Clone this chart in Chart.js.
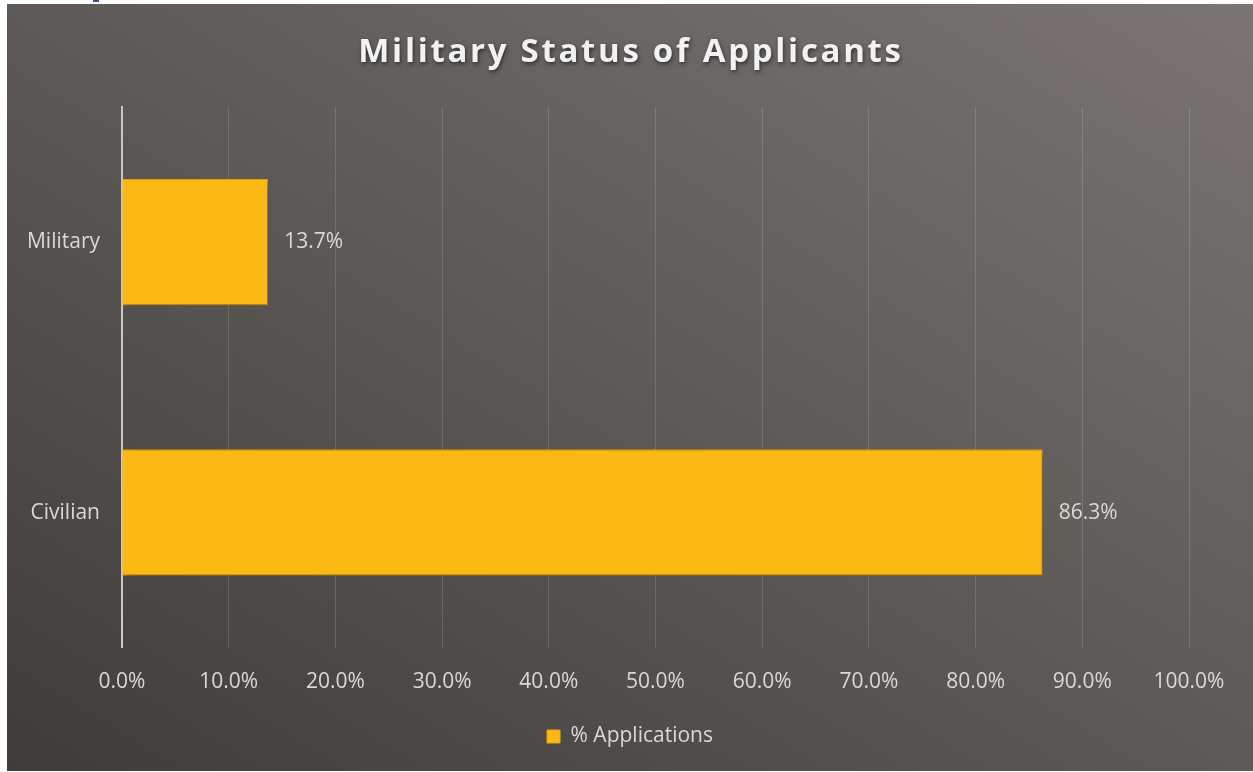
<!DOCTYPE html>
<html>
<head>
<meta charset="utf-8">
<script src="https://cdn.jsdelivr.net/npm/chart.js@4.4.0/dist/chart.umd.min.js"></script>
<style>
  html, body { margin: 0; padding: 0; background: #fff; }
  body { width: 1253px; height: 772px; position: relative; overflow: hidden; }
  #frame {
    position: absolute; left: 7px; top: 4px; width: 1246px; height: 767px;
    background: linear-gradient(to top right, #3f3c3a 0%, #5d5957 50%, #7a7572 100%);
  }
  #mark { position: absolute; left: 93px; top: 0; width: 6px; height: 2px; background: #2f5597; }
</style>
</head>
<body>
<div id="mark"></div>
<div id="frame"><canvas id="mycanvas1" width="1246" height="767"></canvas></div>
<script>
const chartTitle = 'Military Status of Applicants';
const categories = ['Military', 'Civilian'];
const seriesName = '% Applications';
const applicationShare = [13.7, 86.3];

const fontFamily = '"Open Sans", "Liberation Sans", sans-serif';

// title with a soft drop shadow, drawn by hand
const titlePlugin = {
    id: 'shadowTitle',
    afterDraw(chart) {
        const ctx = chart.ctx;
        ctx.save();
        ctx.font = 'bold 33px ' + fontFamily;
        ctx.letterSpacing = '2.7px';
        ctx.fillStyle = '#f2f2f2';
        ctx.textAlign = 'center';
        ctx.textBaseline = 'middle';
        ctx.shadowColor = 'rgba(0,0,0,0.55)';
        ctx.shadowBlur = 4;
        ctx.shadowOffsetX = 1;
        ctx.shadowOffsetY = 2;
        ctx.fillText(chartTitle, chart.width / 2 + 1, 49);
        ctx.restore();
    }
};

// bar shadow + value labels
const barPlugin = {
    id: 'barExtras',
    beforeDatasetsDraw(chart) {
        const ctx = chart.ctx;
        ctx.save();
        ctx.shadowColor = 'rgba(0,0,0,0.45)';
        ctx.shadowBlur = 7;
        ctx.shadowOffsetX = 3;
        ctx.shadowOffsetY = 3;
    },
    afterDatasetsDraw(chart) {
        const ctx = chart.ctx;
        ctx.restore();
        ctx.save();
        ctx.font = '21px ' + fontFamily;
        ctx.fillStyle = '#d9d9d9';
        ctx.textAlign = 'left';
        ctx.textBaseline = 'middle';
        chart.getDatasetMeta(0).data.forEach((bar, i) => {
            ctx.fillText(applicationShare[i].toFixed(1) + '%', bar.x + 16, bar.y);
        });
        ctx.restore();
    }
};

const ctx = document.getElementById('mycanvas1');
new Chart(ctx, {
    type: 'bar',
    data: {
        labels: categories,
        datasets: [{
            label: seriesName,
            data: applicationShare,
            backgroundColor: '#fdb913',
            borderColor: '#e8a70c',
            borderWidth: 1,
            barPercentage: 0.468,
            categoryPercentage: 1
        }]
    },
    options: {
        indexAxis: 'y',
        responsive: false,
        animation: false,
        devicePixelRatio: 1,
        layout: {
            padding: { top: 103, right: 0, bottom: 14, left: 0 }
        },
        plugins: {
            title: { display: false },
            tooltip: { enabled: false },
            legend: {
                position: 'bottom',
                labels: {
                    color: '#d9d9d9',
                    font: { family: fontFamily, size: 21 },
                    boxWidth: 13,
                    boxHeight: 13,
                    padding: 9
                }
            }
        },
        scales: {
            x: {
                min: 0,
                max: 100,
                ticks: {
                    stepSize: 10,
                    color: '#d9d9d9',
                    padding: 22,
                    font: { family: fontFamily, size: 21 },
                    callback: v => v.toFixed(1) + '%'
                },
                grid: {
                    color: 'rgba(255,255,255,0.14)',
                    lineWidth: 1,
                    drawTicks: false
                },
                border: { display: false }
            },
            y: {
                ticks: {
                    color: '#d9d9d9',
                    padding: 22,
                    font: { family: fontFamily, size: 21 }
                },
                grid: { display: false, drawTicks: false },
                border: { display: true, color: '#c8c8c8', width: 2 },
                afterFit: scale => { scale.width = 115; }
            },
            // empty right-hand margin so the legend stays centred on the canvas
            gap: {
                axis: 'y',
                position: 'right',
                display: true,
                ticks: { display: false },
                grid: { display: false, drawTicks: false },
                border: { display: false },
                afterFit: scale => { scale.width = 64; }
            }
        }
    },
    plugins: [titlePlugin, barPlugin]
});
</script>
</body>
</html>
